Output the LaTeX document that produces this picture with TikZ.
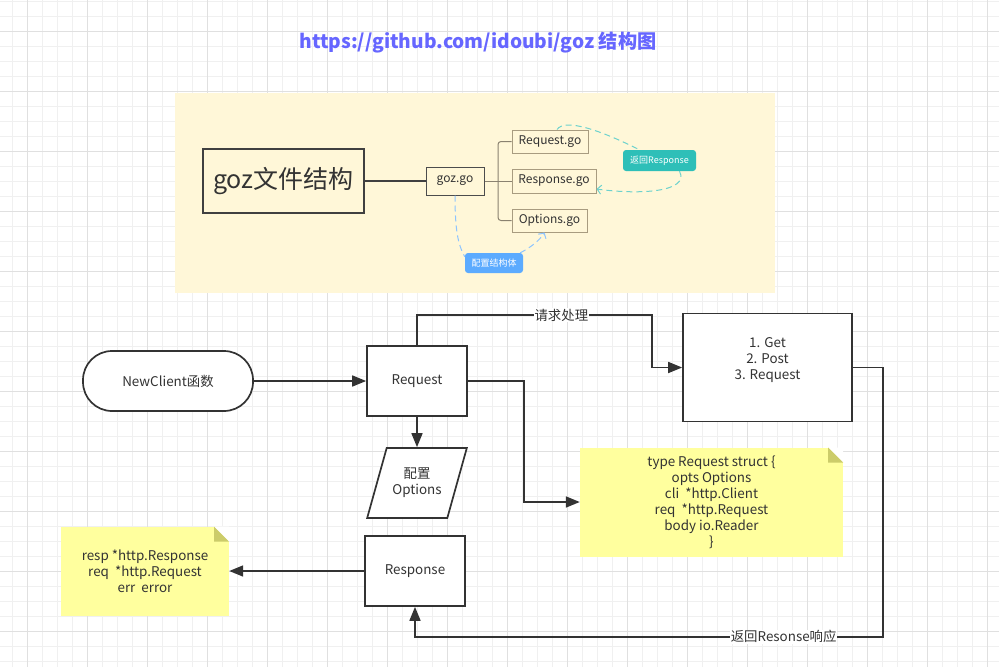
\documentclass[tikz,border=0pt]{standalone}
\usepackage{fontspec}
\setmainfont{Noto Sans CJK SC}
\usetikzlibrary{arrows.meta,shapes.geometric,positioning}
\definecolor{titleblue}{HTML}{6666FF}
\definecolor{mapbg}{HTML}{FFF7D8}
\definecolor{mapline}{HTML}{8A8270}
\definecolor{mapedge}{HTML}{A89C80}
\definecolor{tagteal}{HTML}{2EBFB8}
\definecolor{tagblue}{HTML}{5CABFF}
\definecolor{notebg}{HTML}{FFFF9E}
\definecolor{notefold}{HTML}{CCCC6A}
\definecolor{ink}{HTML}{333333}
\tikzset{
	gridminor/.style={draw=black!6,line width=0.8pt},
	gridmajor/.style={draw=black!12,line width=0.8pt},
	flowbox/.style={draw=ink,line width=1.7pt,fill=white,text=ink,font=\fontsize{13.4}{16}\selectfont,align=center,inner sep=0pt},
	flowline/.style={draw=ink,line width=1.7pt},
	flowarrow/.style={flowline,-{Triangle[length=14pt,width=11pt]}},
	flowlabel/.style={fill=white,text=ink,inner sep=1pt,font=\fontsize{13.4}{16}\selectfont},
	notebox/.style={fill=notebg,text=ink,font=\fontsize{13.4}{16}\selectfont,align=center,inner sep=0pt,
		path picture={
			\fill[white] ([xshift=-15pt]path picture bounding box.north east) -- (path picture bounding box.north east) -- ([yshift=-15pt]path picture bounding box.north east) -- cycle;
			\fill[notefold] ([xshift=-15pt]path picture bounding box.north east) -- ([xshift=-15pt,yshift=-15pt]path picture bounding box.north east) -- ([yshift=-15pt]path picture bounding box.north east) -- cycle;
		}},
	mainbox/.style={draw=black!75,line width=1.5pt,text=black!80,font=\fontsize{25}{30}\selectfont,inner sep=0pt},
	mapbox/.style={draw=mapedge,line width=1pt,text=black!80,font=\fontsize{12}{14}\selectfont,inner sep=0pt},
	tag/.style={rounded corners=3pt,text=white,font=\fontsize{9}{11}\selectfont,inner sep=0pt},
	tealdash/.style={draw=tagteal!70,dash pattern=on 6pt off 4pt,line width=1pt},
	bluedash/.style={draw=tagblue!70,dash pattern=on 6pt off 4pt,line width=1pt},
	branch/.style={draw=mapline,line width=1pt}
}
\begin{document}
\begin{tikzpicture}[x=1pt,y=-1pt]
	\useasboundingbox (0,0) rectangle (999,667);
	\fill[white] (0,0) rectangle (999,667);
	% grid
	\foreach \x in {12,27,...,999} \draw[gridminor] (\x,0) -- (\x,667);
	\foreach \y in {1,16,...,667} \draw[gridminor] (0,\y) -- (999,\y);
	\foreach \x in {27,87,...,999} \draw[gridmajor] (\x,0) -- (\x,667);
	\foreach \y in {31,91,...,667} \draw[gridmajor] (0,\y) -- (999,\y);

	\node[text=titleblue,font=\bfseries\fontsize{19.2}{22}\selectfont] (title) at (478,43) {https://github.com/idoubi/goz 结构图};

	% mind map
	\fill[mapbg] (175,93) rectangle (775,293);
	\node[mainbox,minimum width=161pt,minimum height=64pt] (gozmap) at (283.5,181) {goz文件结构};
	\node[mapbox,draw=black!70,minimum width=58pt,minimum height=28pt] (gozgo) at (455,181) {goz.go};
	\node[mapbox,minimum width=76pt,minimum height=23pt] (reqgo) at (550,141.5) {Request.go};
	\node[mapbox,minimum width=84pt,minimum height=24pt] (respgo) at (554,181) {Response.go};
	\node[mapbox,minimum width=75pt,minimum height=23pt] (optgo) at (549.5,220.5) {Options.go};
	\node[tag,fill=tagteal,minimum width=73pt,minimum height=21pt] (tagreturn) at (659.5,160.5) {返回Response};
	\node[tag,fill=tagblue,minimum width=58pt,minimum height=20pt] (tagconfig) at (494,263) {配置结构体};
	\coordinate (trunk) at (498,181);

	\draw[black!75,line width=2pt] (gozmap) -- (gozgo);
	\draw[branch] (gozgo) -- (respgo);
	\draw[branch,rounded corners=3pt] (reqgo.west) -| (trunk) |- (optgo.west);
	\draw[tealdash] ([xshift=7pt]reqgo.north) .. controls (565,118) and (600,130) .. ([xshift=-20pt]tagreturn.north);
	\draw[tealdash,-{Straight Barb[length=4pt,width=9pt]}] ([xshift=20pt]tagreturn.south) .. controls (690,192) and (640,195) .. ([yshift=-8pt]respgo.east);
	\draw[bluedash] (gozgo.south) .. controls (455,230) and (458,245) .. ([yshift=-4pt]tagconfig.north west);
	\draw[bluedash,-{Straight Barb[length=4pt,width=9pt]}] ([xshift=-3pt]tagconfig.north east) .. controls (530,248) and (540,240) .. ([xshift=-5pt]optgo.south);

	% flow chart
	\node[flowbox,rounded corners=29pt,minimum width=170pt,minimum height=60pt] (newclient) at (168,381) {NewClient函数};
	\node[flowbox,minimum width=100pt,minimum height=70pt] (request) at (417,381) {Request};
	\node[flowbox,trapezium,trapezium left angle=62,trapezium right angle=118,trapezium stretches=true,minimum width=100pt,minimum height=70pt] (options) at (417,483) {配置\\Options};
	\node[flowbox,minimum width=169pt,minimum height=108pt,label={[align=center,text=ink,font=\fontsize{13.4}{16}\selectfont,yshift=7pt]center:1. Get\\2. Post\\3. Request}] (methods) at (767.5,367.5) {};
	\node[flowbox,minimum width=100pt,minimum height=70pt] (response) at (415,571) {Response};
	\node[notebox,minimum width=263pt,minimum height=109pt] (reqnote) at (711.5,502) {type Request struct \{\\opts Options\\cli \ *http.Client\\req \ *http.Request\\body io.Reader\\\}};
	\node[notebox,minimum width=168pt,minimum height=89pt] (respnote) at (145,571) {resp *http.Response\\req \ *http.Request\\err \ error};

	\draw[flowarrow] (newclient) -- (request);
	\draw[flowarrow] (request) -- (options);
	\draw[flowarrow] (request.north) -- ++(0,-30) -| ([xshift=-30pt]methods.west) node[flowlabel,pos=0.307] {请求处理} -- (methods.west);
	\draw[flowarrow] (methods.east) -- ++(30,0) |- ([yshift=-30pt]response.south) node[flowlabel,pos=0.606] {返回Resonse响应} -- (response.south);
	\draw[flowarrow] (request.east) -- ++(56,0) |- (reqnote.west);
	\draw[flowarrow] (response) -- (respnote);
\end{tikzpicture}
\end{document}
